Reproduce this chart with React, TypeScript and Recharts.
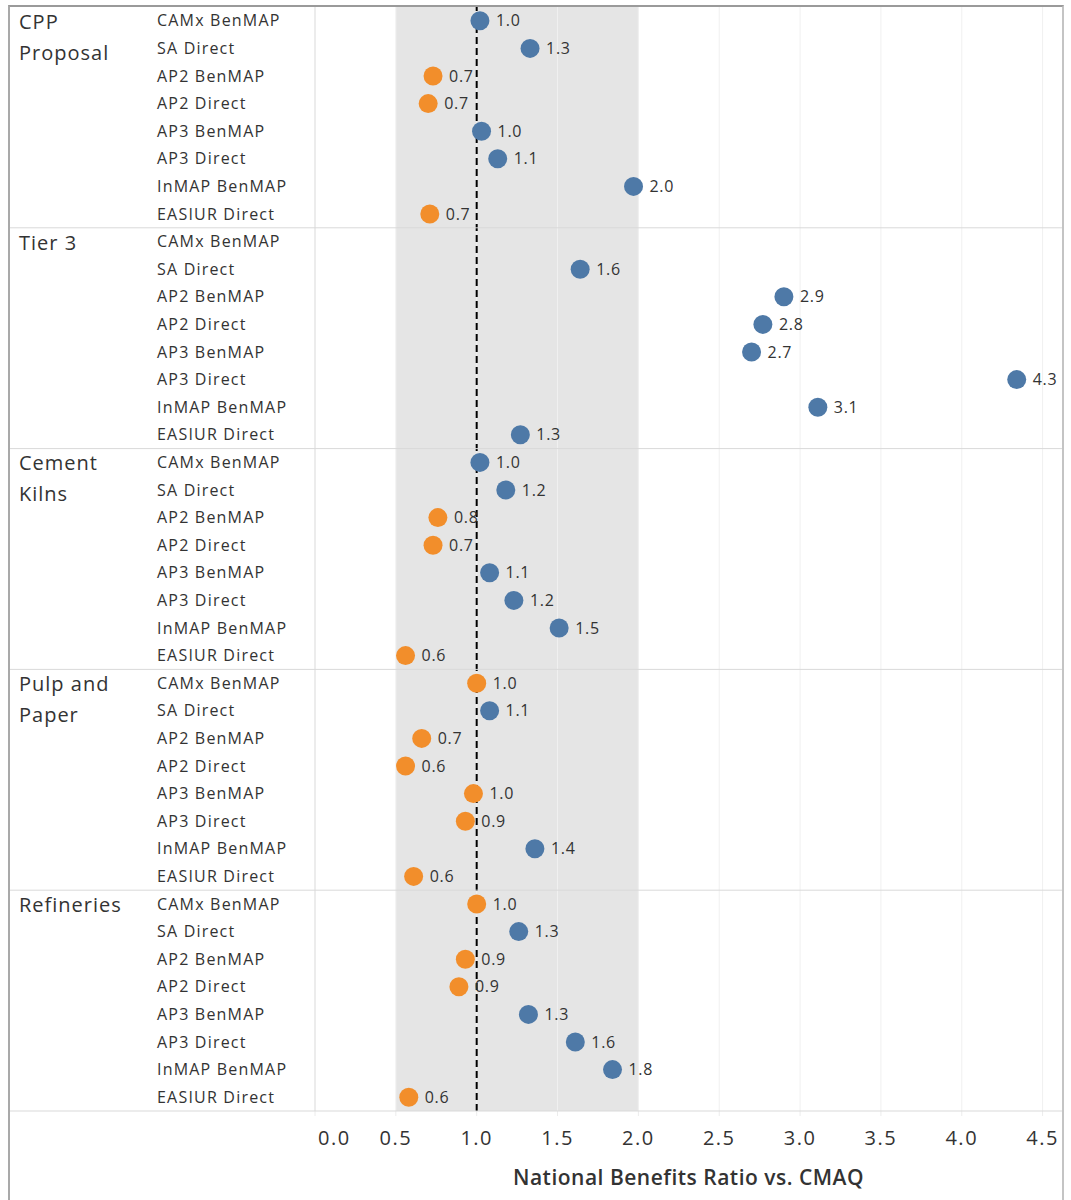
import React from "react";
import { ScatterChart, Scatter, XAxis, YAxis, ReferenceArea, ReferenceLine } from "recharts";

const groups = ["CPP Proposal", "Tier 3", "Cement Kilns", "Pulp and Paper", "Refineries"];
const groupLines = [["CPP", "Proposal"], ["Tier 3"], ["Cement", "Kilns"], ["Pulp and", "Paper"], ["Refineries"]];
const models = [
  "CAMx BenMAP",
  "SA Direct",
  "AP2 BenMAP",
  "AP2 Direct",
  "AP3 BenMAP",
  "AP3 Direct",
  "InMAP BenMAP",
  "EASIUR Direct",
];

// ratio vs CMAQ, one value per model (null = not reported)
const cppProposal = [1.02, 1.33, 0.73, 0.7, 1.03, 1.13, 1.97, 0.71];
const tier3 = [null, 1.64, 2.9, 2.77, 2.7, 4.34, 3.11, 1.27];
const cementKilns = [1.02, 1.18, 0.76, 0.73, 1.08, 1.23, 1.51, 0.56];
const pulpAndPaper = [1.0, 1.08, 0.66, 0.56, 0.98, 0.93, 1.36, 0.61];
const refineries = [1.0, 1.26, 0.93, 0.89, 1.32, 1.61, 1.84, 0.58];

const xTicks = [0, 0.5, 1, 1.5, 2, 2.5, 3, 3.5, 4, 4.5];

const series = [cppProposal, tier3, cementKilns, pulpAndPaper, refineries];

const rows = groups.flatMap((group, gi) =>
  models.map((model, mi) => ({ group, model, row: gi * models.length + mi, value: series[gi][mi] }))
);
const points = rows.filter((r) => r.value !== null);
const rowTicks = rows.map((r) => r.row);

const FONT = "'Open Sans', sans-serif";
const BLUE = "#4e79a7";
const ORANGE = "#f28e2b";
const TEXT = "#333333";
const W = 1052;
const H = 1193;
const X_AXIS_H = 89;
const ROW_H = (H - X_AXIS_H) / rows.length;

const RowTick = (props: any) => {
  const { y, payload } = props;
  const row = payload.value as number;
  const gi = Math.floor(row / models.length);
  const mi = row % models.length;
  return (
    <g>
      {mi === 0 && gi > 0 && (
        <line x1={0} x2={W} y1={y - ROW_H / 2} y2={y - ROW_H / 2} stroke="#d9d9d9" strokeWidth={1} />
      )}
      {row === rows.length - 1 && (
        <line x1={0} x2={W} y1={y + ROW_H / 2} y2={y + ROW_H / 2} stroke="#d9d9d9" strokeWidth={1} />
      )}
      {mi === 0 &&
        groupLines[gi].map((t, k) => (
          <text key={k} x={9} y={y + 8 + k * 31} fontSize={20} letterSpacing={1} fill={TEXT} fontFamily={FONT}>
            {t}
          </text>
        ))}
      <text x={147} y={y + 5.5} fontSize={16} letterSpacing={1.2} fill={TEXT} fontFamily={FONT}>
        {models[mi]}
      </text>
    </g>
  );
};

const ValueTick = (props: any) => {
  const { x, y, payload } = props;
  const first = payload.value === 0;
  return (
    <text
      x={first ? x + 3 : x}
      y={y + 27}
      textAnchor={first ? "start" : "middle"}
      fontSize={20}
      letterSpacing={1.5}
      fill={TEXT}
      fontFamily={FONT}
    >
      {Number(payload.value).toFixed(1)}
    </text>
  );
};

const Dot = (props: any) => {
  const { cx, cy, payload } = props;
  const v = payload.value as number;
  return (
    <g>
      <circle cx={cx} cy={cy} r={9.5} fill={v > 1 ? BLUE : ORANGE} />
      <text x={cx + 16} y={cy + 5.5} fontSize={16} letterSpacing={0.7} fill={TEXT} fontFamily={FONT}>
        {v.toFixed(1)}
      </text>
    </g>
  );
};

export default function App() {
  return (
    <div
      style={{
        position: "absolute",
        top: 5,
        left: 8,
        width: W,
        height: H,
        borderTop: "2px solid #9a9a9a",
        borderLeft: "2px solid #a9a9a9",
        borderRight: "2px solid #c4c4c4",
        background: "#fff",
      }}
    >
      <ScatterChart width={W} height={H} margin={{ top: 0, right: 0, bottom: 0, left: 0 }}>
        <XAxis
          type="number"
          dataKey="value"
          domain={[0, 4.62]}
          allowDataOverflow
          ticks={xTicks}
          interval={0}
          height={X_AXIS_H}
          axisLine={false}
          tickLine={{ stroke: "#ececec" }}
          tickSize={5}
          tick={<ValueTick />}
          label={{
            value: "National Benefits Ratio vs. CMAQ",
            position: "insideBottom",
            offset: 15,
            fill: TEXT,
            fontSize: 21,
            fontWeight: 600,
            letterSpacing: 0.5,
            fontFamily: FONT,
          }}
        />
        <YAxis
          type="number"
          dataKey="row"
          domain={[-0.5, rows.length - 0.5]}
          allowDataOverflow
          reversed
          ticks={rowTicks}
          interval={0}
          width={305}
          tickLine={false}
          axisLine={{ stroke: "#d9d9d9" }}
          tick={<RowTick />}
        />
        <ReferenceArea x1={0.5} x2={2} fill="#e5e5e5" fillOpacity={1} stroke="none" />
        {xTicks
          .filter((t) => t > 0)
          .map((t) => (
            <ReferenceLine key={t} x={t} stroke="#f0f0f0" strokeWidth={1} />
          ))}
        <Scatter data={points} shape={<Dot />} isAnimationActive={false} />
        <ReferenceLine x={1} stroke="#000" strokeWidth={2} strokeDasharray="7 4" />
      </ScatterChart>
    </div>
  );
}
